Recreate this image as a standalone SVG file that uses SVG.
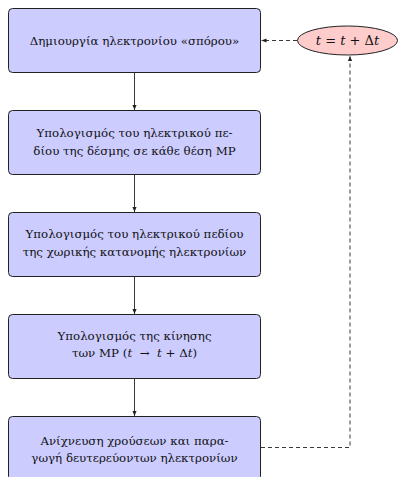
<svg xmlns="http://www.w3.org/2000/svg" width="398" height="477" viewBox="0 0 398 477">
<defs>
<style>
.box{fill:#ccccff;stroke:#222;stroke-width:1}
.t{font-family:"DejaVu Serif",serif;font-size:11.8px;fill:#111;text-anchor:middle}
.m{font-style:italic}
.c{fill:none;stroke:#222;stroke-width:0.9}
.d{fill:none;stroke:#222;stroke-width:0.9;stroke-dasharray:4 3}
</style>
<marker id="ah" viewBox="0 0 6 6" refX="6" refY="3" markerWidth="5" markerHeight="5" orient="auto" markerUnits="userSpaceOnUse">
<path d="M0,0.5 L6,3 L0,5.5 Z" fill="#222"/>
</marker>
</defs>
<rect width="398" height="477" fill="#fff"/>
<g id="connectors">
<line class="c" x1="134.5" y1="72.5" x2="134.5" y2="110" marker-end="url(#ah)"/>
<line class="c" x1="134.5" y1="174.5" x2="134.5" y2="212" marker-end="url(#ah)"/>
<line class="c" x1="134.5" y1="276.5" x2="134.5" y2="314" marker-end="url(#ah)"/>
<line class="c" x1="134.5" y1="378.5" x2="134.5" y2="416" marker-end="url(#ah)"/>
<polyline class="d" points="261,447.5 350,447.5 350,56" marker-end="url(#ah)"/>
<line class="d" x1="297" y1="40.5" x2="261.5" y2="40.5" marker-end="url(#ah)"/>
</g>
<g id="n1">
<rect class="box" x="8.5" y="8.5" width="252" height="64" rx="4"/>
<text class="t" x="134.5" y="45">Δημιουργία ηλεκτρονίου «σπόρου»</text>
</g>
<g id="n2">
<rect class="box" x="8.5" y="110.5" width="252" height="64" rx="4"/>
<text class="t" x="134.5" y="137">Υπολογισμός του ηλεκτρικού πε-</text>
<text class="t" x="134.5" y="154.5">δίου της δέσμης σε κάθε θέση MP</text>
</g>
<g id="n3">
<rect class="box" x="8.5" y="212.5" width="252" height="64" rx="4"/>
<text class="t" x="134.5" y="238">Υπολογισμός του ηλεκτρικού πεδίου</text>
<text class="t" x="134.5" y="255.5">της χωρικής κατανομής ηλεκτρονίων</text>
</g>
<g id="n4">
<rect class="box" x="8.5" y="314.5" width="252" height="64" rx="4"/>
<text class="t" x="134.5" y="339.5">Υπολογισμός της κίνησης</text>
<text class="t" x="134.5" y="357">των MP (<tspan class="m">t</tspan>&#160;&#160;→&#160;&#160;<tspan class="m">t</tspan> + Δ<tspan class="m">t</tspan>)</text>
</g>
<g id="n5">
<rect class="box" x="8.5" y="416.5" width="252" height="64" rx="4"/>
<text class="t" x="134.5" y="444.5">Ανίχνευση χρούσεων και παρα-</text>
<text class="t" x="134.5" y="462">γωγή δευτερεύοντων ηλεκτρονίων</text>
</g>
<g id="n6">
<ellipse cx="347.5" cy="40.5" rx="50" ry="14.5" fill="#ffcccc" stroke="#222" stroke-width="1"/>
<text class="t" x="347.5" y="45" style="font-size:13px"><tspan class="m">t</tspan> = <tspan class="m">t</tspan> + Δ<tspan class="m">t</tspan></text>
</g>
</svg>
